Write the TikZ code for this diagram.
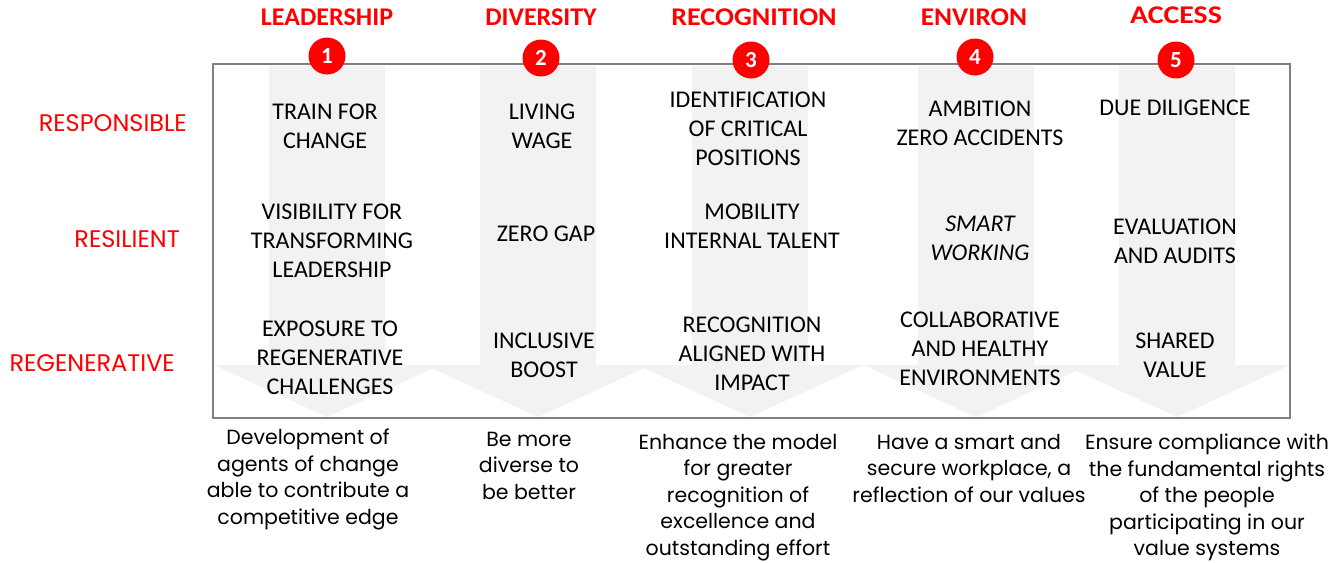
\documentclass[tikz,border=0pt]{standalone}
\usepackage{fontspec}
\setmainfont{Carlito}
\newfontfamily\gothic{Poppins}
\definecolor{boxgray}{HTML}{7F7F7F}
\definecolor{arrowgray}{HTML}{F2F2F2}
\definecolor{myred}{HTML}{FF0000}
\tikzset{
  cell/.style={align=center, inner sep=0pt, font=\fontsize{24}{29}\selectfont},
  title/.style={inner sep=0pt, text=myred, font=\bfseries\fontsize{25.5}{25.5}\selectfont},
  badge/.style={circle, fill=myred, minimum size=37pt, inner sep=0pt, text=white, font=\bfseries\fontsize{23}{23}\selectfont},
  rowlabel/.style={inner sep=0pt, text=myred, anchor=east, font=\gothic\fontsize{24}{24}\selectfont},
  desc/.style={align=center, inner sep=0pt, anchor=north, font=\gothic\fontsize{20.5}{26.5}\selectfont},
}
\begin{document}
\begin{tikzpicture}[x=1pt,y=-1pt]
\useasboundingbox (0,0) rectangle (1343,562);
% block arrows
\foreach \c in {327,538,750,976,1177}{
  \fill[arrowgray] (\c-58,66) -- (\c+58,66) -- (\c+58,365) -- (\c+113,365)
     -- (\c,417) -- (\c-113,365) -- (\c-58,365) -- cycle;
}
% frame
\draw[boxgray, line width=1.5pt] (213,64) rectangle (1290,418);
% titles and badges
\node[title] (t1) at (327,17) {\scalebox{1.02}[1]{LEADERSHIP}};
\node[title] (t2) at (541,17) {\scalebox{1.02}[1]{DIVERSITY}};
\node[title] (t3) at (754,17) {\scalebox{1.10}[1]{RECOGNITION}};
\node[title] (t4) at (974,17) {\scalebox{1.07}[1]{ENVIRON}};
\node[title] (t5) at (1176,15) {\scalebox{1.17}[1]{ACCESS}};
\node[badge] (b1) at (327,56) {1};
\node[badge] (b2) at (541,58) {2};
\node[badge] (b3) at (751,60) {3};
\node[badge] (b4) at (975,57) {4};
\node[badge] (b5) at (1176,60) {5};
% row labels
\node[rowlabel] (r1) at (187,123) {RESPONSIBLE};
\node[rowlabel] (r2) at (180,239) {RESILIENT};
\node[rowlabel] (r3) at (175,363) {REGENERATIVE};
% column 1
\node[cell] (c11) at (325,126) {TRAIN FOR\\CHANGE};
\node[cell] (c12) at (332,241) {VISIBILITY FOR\\TRANSFORMING\\LEADERSHIP};
\node[cell] (c13) at (330,358) {EXPOSURE TO\\REGENERATIVE\\CHALLENGES};
% column 2
\node[cell] (c21) at (542,126) {LIVING\\WAGE};
\node[cell] (c22) at (546,234) {ZERO GAP};
\node[cell] (c23) at (544,355) {INCLUSIVE\\BOOST};
% column 3
\node[cell] (c31) at (748,129) {IDENTIFICATION\\OF CRITICAL\\POSITIONS};
\node[cell] (c32) at (752,226) {MOBILITY\\INTERNAL TALENT};
\node[cell] (c33) at (752,354) {RECOGNITION\\ALIGNED WITH\\IMPACT};
% column 4
\node[cell] (c41) at (980,123) {AMBITION\\ZERO ACCIDENTS};
\node[cell, font=\itshape\fontsize{24}{29}\selectfont] (c42) at (980,238) {SMART\\WORKING};
\node[cell] (c43) at (980,349) {COLLABORATIVE\\AND HEALTHY\\ENVIRONMENTS};
% column 5
\node[cell] (c51) at (1175,108) {DUE DILIGENCE};
\node[cell] (c52) at (1175,241) {EVALUATION\\AND AUDITS};
\node[cell] (c53) at (1175,355) {SHARED\\VALUE};
% descriptions
\node[desc] (d1) at (308,429) {Development of\\agents of change\\able to contribute a\\competitive edge};
\node[desc] (d2) at (529,432) {Be more\\diverse to\\be better};
\node[desc] (d3) at (738,434) {Enhance the model\\for greater\\recognition of\\excellence and\\outstanding effort};
\node[desc] (d4) at (969,434) {Have a smart and\\secure workplace, a\\reflection of our values};
\node[desc] (d5) at (1207,434) {Ensure compliance with\\the fundamental rights\\of the people\\participating in our\\value systems};
\end{tikzpicture}
\end{document}
